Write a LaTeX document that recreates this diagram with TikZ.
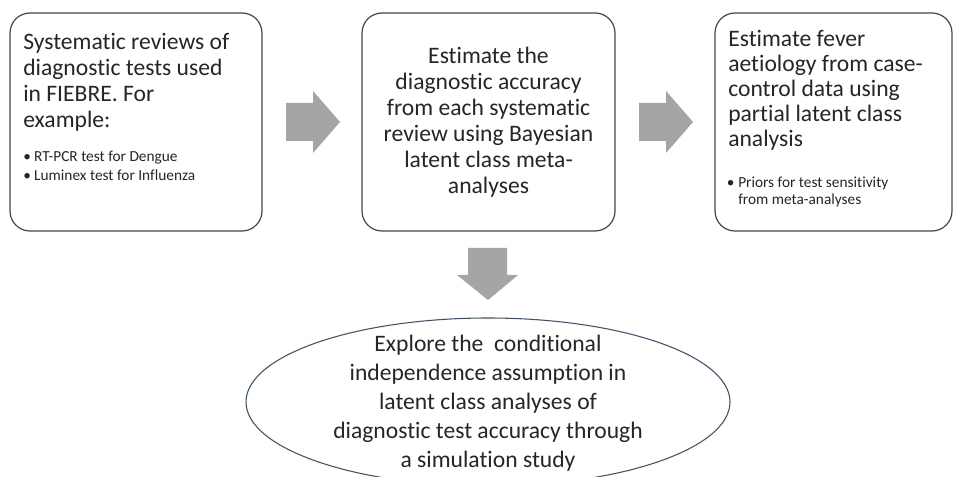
\documentclass[tikz,border=0pt]{standalone}
\usepackage{fontspec}
\setmainfont{Carlito}[Ligatures=NoCommon]
\usetikzlibrary{shapes.geometric}
\definecolor{boxline}{RGB}{70,70,70}
\definecolor{arrowgray}{RGB}{165,165,165}
\definecolor{ellline}{RGB}{60,82,122}
\tikzset{
  stepbox/.style={draw=boxline, line width=0.9pt, rounded corners=15pt, fill=white, inner sep=0pt},
  mainline/.style={font=\fontsize{17.7}{20}\selectfont, inner sep=0pt, text=black!85},
  bulline/.style={font=\fontsize{11.5}{13}\selectfont, inner sep=0pt, text=black!85},
  blockarrow/.style={fill=arrowgray, draw=none},
  ellnode/.style={ellipse, draw=ellline, line width=0.8pt, inner sep=0pt, minimum width=363pt, minimum height=126pt}
}
\begin{document}
\begin{tikzpicture}[x=0.75pt, y=-0.75pt]
\useasboundingbox (0,0) rectangle (954,477);
\fill[white] (0,0) rectangle (954,477);

% boxes
\node[stepbox, minimum width=189pt, minimum height=163.5pt] (box1) at (136,122) {};
\node[stepbox, minimum width=189.75pt, minimum height=163.5pt] (box2) at (488.5,122) {};
\node[stepbox, minimum width=177.75pt, minimum height=163.5pt] (box3) at (833.5,122) {};
\node[ellnode] (ell) at (488,402) {};

% block arrows
\fill[blockarrow] (286,103) -- (313,103) -- (313,91) -- (340,122) -- (313,153) -- (313,141) -- (286,141) -- cycle;
\fill[blockarrow] (639,103) -- (666,103) -- (666,91) -- (693,122) -- (666,153) -- (666,141) -- (639,141) -- cycle;
\fill[blockarrow] (468,248) -- (507,248) -- (507,275) -- (518,275) -- (488,300) -- (457,275) -- (468,275) -- cycle;

% box 1 text
\foreach \t/\y [count=\i] in {Systematic reviews of/50, diagnostic tests used/76, in FIEBRE. For/102, example:/128}
  \node[mainline, anchor=base west] (ba\i) at (23,\y) {\t};
\node[bulline, anchor=base west] (bb1) at (23,162) {•\hspace{2.5pt}RT-PCR test for Dengue};
\node[bulline, anchor=base west] (bb2) at (23,181) {•\hspace{2.5pt}Luminex test for Influenza};

% box 2 text
\foreach \t/\y [count=\i] in {Estimate the/64, diagnostic accuracy/90, from each systematic/116, review using Bayesian/142, latent class meta-/168, analyses/194}
  \node[mainline, anchor=base] (ca\i) at (488.5,\y) {\t};

% box 3 text
\foreach \t/\y [count=\i] in {Estimate fever/47, aetiology from case-/72, control data using/97, partial latent class/122, analysis/147}
  \node[mainline, anchor=base west] (da\i) at (728,\y) {\t};
\node[bulline, anchor=base west] (db1) at (738,188) {Priors for test sensitivity};
\node[bulline, anchor=base east] (dbd) at ([xshift=-2.5pt]db1.base west) {•};
\node[bulline, anchor=base west] (db2) at ([yshift=-12.75pt]db1.base west) {from meta-analyses};

% ellipse text
\foreach \t/\y [count=\i] in {Explore the~ conditional/352, independence assumption in/381, latent class analyses of/410, diagnostic test accuracy through/439, a simulation study/468}
  \node[mainline, anchor=base] (ea\i) at (488,\y) {\t};
\end{tikzpicture}
\end{document}
